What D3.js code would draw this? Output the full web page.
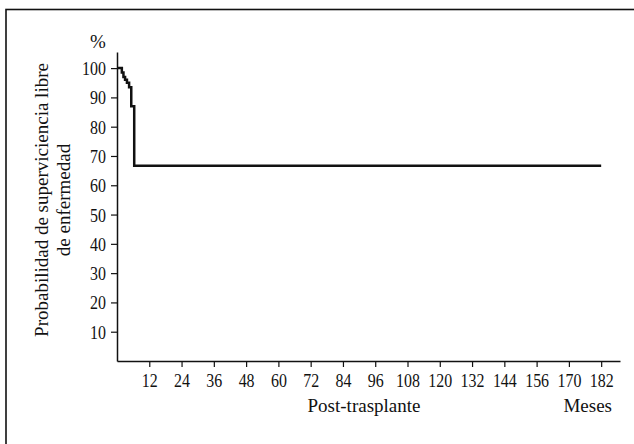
<!DOCTYPE html>
<html>
<head>
<meta charset="utf-8">
<script src="https://cdn.jsdelivr.net/npm/d3@7"></script>
<style>
  body { margin: 0; background: #fff; }
  text { font-family: "Liberation Serif", "Times New Roman", serif; fill: #111; }
</style>
</head>
<body>
<div id="chart"></div>
<script>
// survival curve (months, %)
var months = [0, 1.8, 2.4, 3.0, 3.7, 4.5, 5.3, 6.4, 180];
var survival = [100, 98.5, 97, 96, 95, 93.5, 87, 66.7, 66.7];

var yTicks = [10, 20, 30, 40, 50, 60, 70, 80, 90, 100];
var xTicks = [12, 24, 36, 48, 60, 72, 84, 96, 108, 120, 132, 144, 156, 168, 180];
var xTickLabels = ["12", "24", "36", "48", "60", "72", "84", "96", "108", "120", "132", "144", "156", "170", "182"];

var width = 634;
var height = 444;
var squeeze = 0.84; // the original digits are narrow

var svg, x, y;

createSVG();
makeScales();
drawFrame();
drawAxes();
drawCurve();
drawLabels();

function createSVG() {
  svg = d3.select("#chart")
    .append("svg")
    .attr("width", width)
    .attr("height", height);
}

function makeScales() {
  x = d3.scaleLinear().domain([0, 187]).range([117, 620]);
  y = d3.scaleLinear().domain([0, 105.5]).range([361, 52]);
}

function drawFrame() {
  svg.append("rect")
    .attr("x", 6)
    .attr("y", 9.5)
    .attr("width", width + 20)
    .attr("height", height + 20)
    .attr("fill", "none")
    .attr("stroke", "#111")
    .attr("stroke-width", 1.6);
}

function drawAxes() {
  var yAxis = svg.append("g")
    .attr("transform", "translate(" + x(0) + ",0)")
    .call(d3.axisLeft(y)
      .tickValues(yTicks)
      .tickSize(6)
      .tickPadding(5)
      .tickSizeOuter(0));

  var xAxis = svg.append("g")
    .attr("transform", "translate(0," + y(0) + ")")
    .call(d3.axisBottom(x)
      .tickValues(xTicks)
      .tickFormat(function(d, i) {
        return xTickLabels[i];
      })
      .tickSize(6)
      .tickPadding(7)
      .tickSizeOuter(0));

  [yAxis, xAxis].forEach(function(g) {
    g.attr("font-family", null).attr("font-size", null);
    g.select(".domain").attr("stroke", "#111").attr("stroke-width", 1.5);
    g.selectAll(".tick line").attr("stroke", "#111").attr("stroke-width", 1.2);
    g.selectAll(".tick text")
      .attr("font-size", 19)
      .attr("fill", "#111")
      .attr("transform", "scale(" + squeeze + ",1)");
  });

  yAxis.selectAll(".tick text")
    .attr("x", -11 / squeeze)
    .attr("dy", "0.34em");
}

function drawCurve() {
  var data = months.map(function(m, i) {
    return { t: m, s: survival[i] };
  });

  var line = d3.line()
    .curve(d3.curveStepAfter)
    .x(function(d) {
      return x(d.t);
    })
    .y(function(d) {
      return y(d.s);
    });

  svg.append("path")
    .datum(data)
    .attr("d", line)
    .attr("fill", "none")
    .attr("stroke", "#111")
    .attr("stroke-width", 2.5);
}

function drawLabels() {
  svg.append("text")
    .attr("x", 98)
    .attr("y", 48)
    .attr("text-anchor", "middle")
    .attr("font-size", 19)
    .text("%");

  var yTitle = svg.append("text")
    .attr("transform", "translate(48,200) rotate(-90)")
    .attr("text-anchor", "middle")
    .attr("font-size", 19);
  yTitle.append("tspan")
    .attr("x", 0)
    .attr("dy", 0)
    .text("Probabilidad de superviciencia libre");
  yTitle.append("tspan")
    .attr("x", 0)
    .attr("dy", 22)
    .text("de enfermedad");

  svg.append("text")
    .attr("x", 364)
    .attr("y", 412)
    .attr("text-anchor", "middle")
    .attr("font-size", 19)
    .text("Post-trasplante");

  svg.append("text")
    .attr("x", 612)
    .attr("y", 412)
    .attr("text-anchor", "end")
    .attr("font-size", 19)
    .text("Meses");
}
</script>
</body>
</html>
